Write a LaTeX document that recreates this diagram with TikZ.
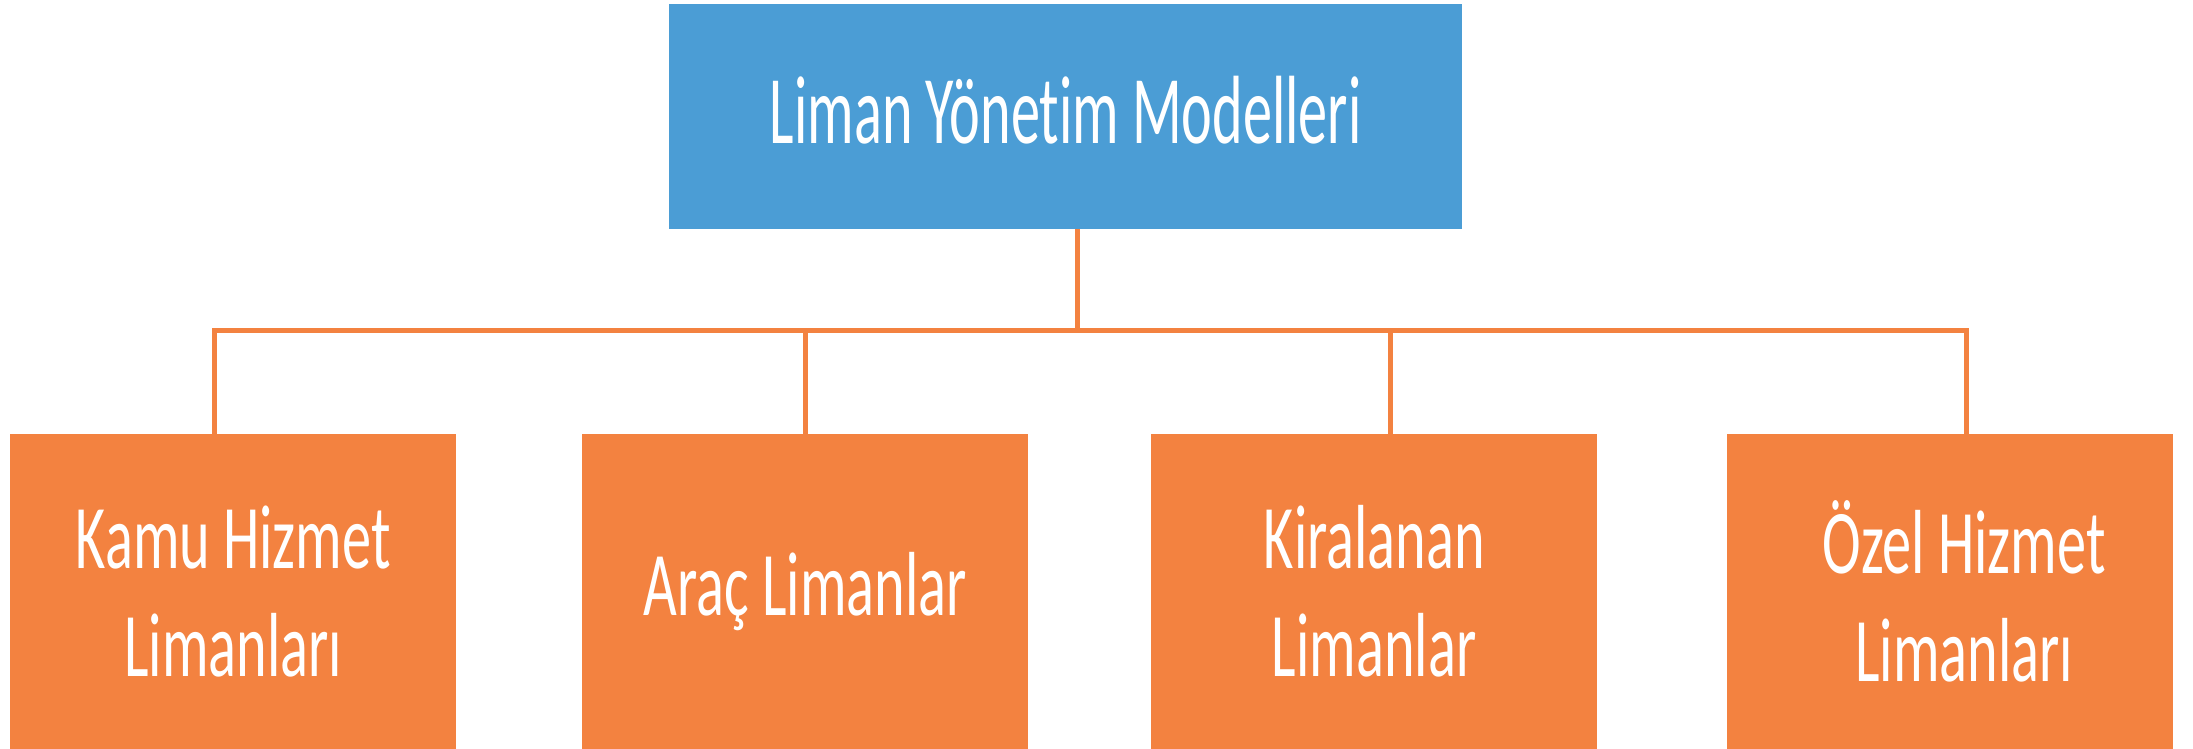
\documentclass[tikz,border=0pt]{standalone}
\usepackage{fontspec}
\setmainfont[FakeStretch=0.6,RawFeature={-liga;-dlig;-clig}]{Carlito}
\newfontfamily\leaffont[FakeStretch=0.64,RawFeature={-liga;-dlig;-clig}]{Carlito}
\definecolor{topblue}{RGB}{75,157,213}
\definecolor{boxorange}{RGB}{243,130,64}
\tikzset{
  topbox/.style={rectangle, fill=topblue, anchor=north west, inner sep=0pt, text=white,
     minimum width=793pt, minimum height=225pt, font=\fontsize{97}{108}\selectfont},
  leafbox/.style={rectangle, fill=boxorange, anchor=north west, inner sep=0pt, text=white,
     minimum width=446pt, minimum height=315pt, align=center, font=\leaffont\fontsize{91}{108}\selectfont},
  link/.style={draw=boxorange, line width=5pt}
}
\begin{document}
\begin{tikzpicture}[x=1pt,y=-1pt]
\useasboundingbox (0,0) rectangle (2193,749);
\node[topbox] (top) at (669,4) {\raisebox{14pt}{Liman Yönetim Modelleri}};
\node[leafbox] (b1) at (10,434) {Kamu Hizmet\\Limanları};
\node[leafbox] (b2) at (582,434) {Araç Limanlar};
\node[leafbox] (b3) at (1151,434) {Kiralanan\\Limanlar};
\node[leafbox] (b4) at (1727,434) {\hspace*{28pt}Özel Hizmet\\\hspace*{28pt}Limanları};
\coordinate (bus) at (1077,330);
\draw[link] ([xshift=12pt]top.south) -- ([xshift=12pt]top.south |- bus);
\draw[link] ([xshift=-19pt]b1.north) |- ([xshift=16pt]b4.north |- bus) -- ([xshift=16pt]b4.north);
\draw[link] (b2.north) -- (b2.north |- bus);
\draw[link] ([xshift=16pt]b3.north) -- ([xshift=16pt]b3.north |- bus);
\end{tikzpicture}
\end{document}
